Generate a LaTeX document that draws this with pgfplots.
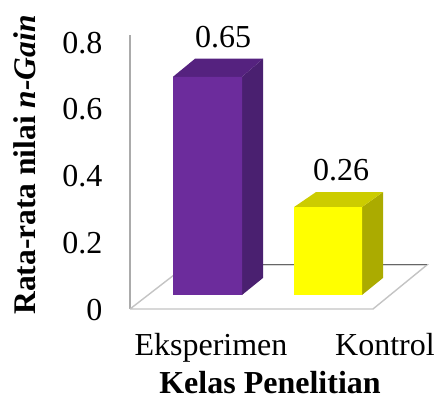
\documentclass[border=0pt]{standalone}
\usepackage{pgfplots}
\usepackage{fontspec}
\setmainfont{Liberation Serif}
\pgfplotsset{compat=1.18}
\definecolor{purplefront}{HTML}{6C2C9C}
\definecolor{purpleside}{HTML}{4A2070}
\definecolor{purpletop}{HTML}{55227F}
\definecolor{yellowfront}{HTML}{FFFF00}
\definecolor{yellowside}{HTML}{ABAB00}
\definecolor{yellowtop}{HTML}{CCCC00}
\definecolor{axisgrey}{HTML}{ABABAB}
\definecolor{floorline}{HTML}{C4C4C4}
\begin{document}
\begin{tikzpicture}[x=1pt,y=1pt]
\path[use as bounding box] (0,0) rectangle (435,400);
\begin{axis}[
    at={(130pt,91pt)}, anchor=south west,
    scale only axis, width=305pt, height=274pt,
    xmin=130, xmax=435, ymin=0, ymax=0.82,
    axis x line=none,
    axis y line*=left,
    axis line style={axisgrey, line width=1.4pt, -},
    clip=false,
    ytick={0,0.2,0.4,0.6,0.8},
    yticklabels={0,0.2,0.4,0.6,0.8},
    major tick style={draw=none},
    /pgf/number format/assume math mode=true,
    yticklabel style={font=\fontsize{32}{36}\selectfont, anchor=east, xshift=-24pt, yshift=-1pt},
    ylabel={\textbf{Rata-rata nilai \textit{n-Gain}}},
    ylabel style={font=\fontsize{31.5}{36}\selectfont, at={(axis cs:25,0.431)}, anchor=center, rotate=0},
]
% lantai
\addplot[fill=white, draw=floorline, line width=1.4pt] coordinates {(130,0) (373,0) (427,0.132) (187,0.132) (130,0)};
\addplot[draw=black!60, line width=0.9pt] coordinates {(187,0.132) (427,0.132)};
% Eksperimen 0.65
\addplot[fill=purpleside, draw=none] coordinates {(242,0.042) (263,0.093) (263,0.749) (242,0.695) (242,0.042)};
\addplot[fill=purpletop, draw=none] coordinates {(173,0.695) (195,0.749) (263,0.749) (242,0.695) (173,0.695)};
\addplot[fill=purplefront, draw=none] coordinates {(173,0.042) (242,0.042) (242,0.695) (173,0.695) (173,0.042)};
% Kontrol 0.26
\addplot[fill=yellowside, draw=none] coordinates {(362,0.042) (383,0.093) (383,0.350) (362,0.305) (362,0.042)};
\addplot[fill=yellowtop, draw=none] coordinates {(294,0.305) (316,0.350) (383,0.350) (362,0.305) (294,0.305)};
\addplot[fill=yellowfront, draw=none] coordinates {(294,0.042) (362,0.042) (362,0.305) (294,0.305) (294,0.042)};
\node[anchor=base, font=\fontsize{32}{36}\selectfont] at (axis cs:223,0.784) {0.65};
\node[anchor=base, font=\fontsize{32}{36}\selectfont] at (axis cs:341,0.386) {0.26};
\node[anchor=base, font=\fontsize{32}{36}\selectfont] at (axis cs:211,-0.138) {Eksperimen};
\node[anchor=base, font=\fontsize{32}{36}\selectfont] at (axis cs:385,-0.138) {Kontrol};
\node[anchor=base, inner sep=0pt, font=\fontsize{32}{36}\selectfont\bfseries] at (axis cs:270,-0.254) {Kelas Penelitian};
\end{axis}
\end{tikzpicture}
\end{document}
